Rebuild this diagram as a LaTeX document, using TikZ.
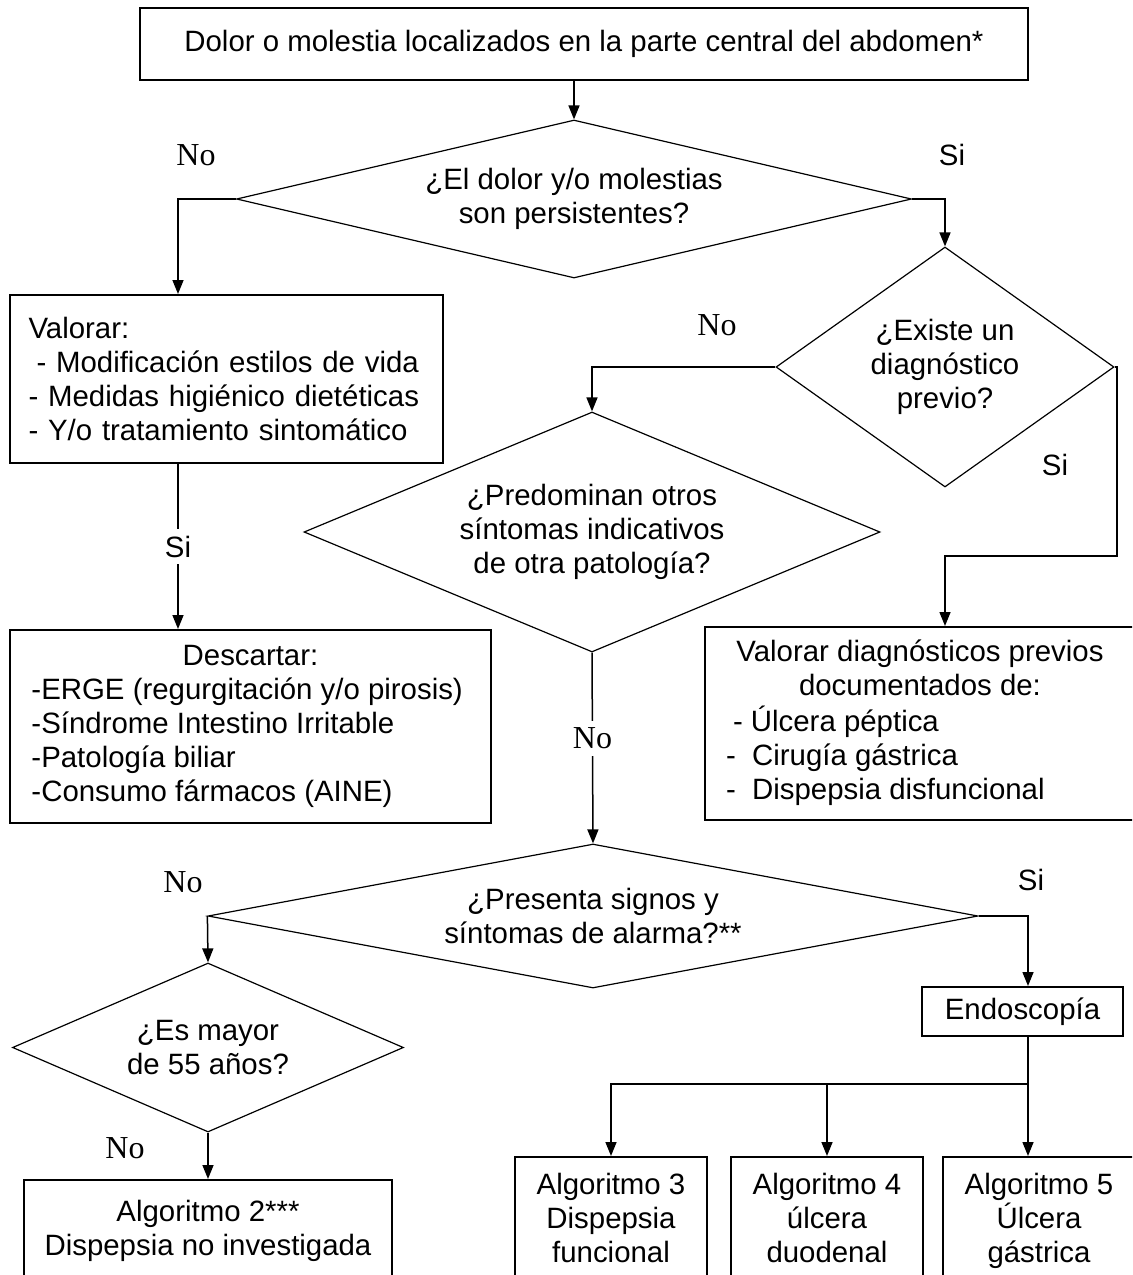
\documentclass[tikz,border=0pt]{standalone}
\usepackage{fontspec}
\setmainfont{Liberation Sans}
\newfontfamily\timesfont{Liberation Serif}
\usetikzlibrary{shapes.geometric,arrows.meta}
\tikzset{
  box/.style={draw, line width=1pt, inner sep=0pt, align=center},
  decision/.style={draw, diamond, line width=0.6pt, inner sep=0pt, align=center},
  arr/.style={line width=0.75pt, -{Triangle[length=7pt,width=5.5pt]}},
  plain/.style={line width=0.75pt},
  nolbl/.style={font=\timesfont\fontsize{16}{19}\selectfont},
}

\begin{document}
\begin{tikzpicture}[x=0.5pt, y=-0.5pt, font=\fontsize{14.7}{17}\selectfont]
  \useasboundingbox (0,0) rectangle (1132,1275);
  \clip (0,0) rectangle (1132,1275);

  % boxes and decisions
  \node[box, minimum width=444pt, minimum height=36pt] (top) at (584,44) {Dolor o molestia localizados en la parte central del abdomen*};
  \node[decision, aspect=4.27, minimum width=337.5pt, minimum height=79pt] (persist) at (574,199) {¿El dolor y/o molestias\\son persistentes?};
  \node[box, align=left, text width=198pt, inner xsep=9.25pt, minimum height=84pt] (valorar) at (226.5,379) {Valorar:\\\hspace*{4pt}- Modificación estilos de vida\\- Medidas higiénico dietéticas\\- Y/o tratamiento sintomático};
  \node[decision, aspect=1.41, minimum width=169pt, minimum height=120pt] (previo) at (945,367) {¿Existe un\\diagnóstico\\previo?};
  \node[decision, aspect=2.4, minimum width=288pt, minimum height=120pt] (otros) at (592,532) {¿Predominan otros\\síntomas indicativos\\de otra patología?};
  \node[box, minimum width=240.5pt, minimum height=96.5pt] (descartar) at (250.5,726.5) {\begin{tabular}{@{}p{219pt}@{}}\multicolumn{1}{@{}c@{}}{Descartar:}\\-ERGE (regurgitación y/o pirosis)\\-Síndrome Intestino Irritable\\-Patología biliar\\-Consumo fármacos (AINE)\end{tabular}};
  \node[box, minimum width=215pt, minimum height=96.5pt] (valdiag) at (920,723.5) {\begin{tabular}{@{}p{194pt}@{}}\multicolumn{1}{@{}c@{}}{Valorar diagnósticos previos}\\\multicolumn{1}{@{}c@{}}{documentados de:}\\\hspace*{3.5pt}- Úlcera péptica\\-\ \ Cirugía gástrica\\-\ \ Dispepsia disfuncional\end{tabular}};
  \node[decision, aspect=5.35, minimum width=385pt, minimum height=72pt] (alarma) at (593,916) {¿Presenta signos y\\síntomas de alarma?**};
  \node[decision, aspect=2.31, minimum width=195.5pt, minimum height=84.5pt] (mayor) at (208,1047.5) {¿Es mayor\\de 55 años?};
  \node[box, minimum width=100.5pt, minimum height=24.5pt] (endo) at (1022.5,1011.5) {Endoscopía};
  \node[box, anchor=north, minimum width=184pt, inner ysep=10pt, text depth=60pt] (alg2) at (208,1179) {Algoritmo 2***\\Dispepsia no investigada};
  \node[box, anchor=north, minimum width=96pt, inner ysep=8pt, text depth=60pt] (alg3) at (611,1156) {Algoritmo 3\\Dispepsia\\funcional};
  \node[box, anchor=north, minimum width=96pt, inner ysep=8pt, text depth=60pt] (alg4) at (827,1156) {Algoritmo 4\\úlcera\\duodenal};
  \node[box, anchor=north, minimum width=96pt, inner ysep=8pt, text depth=60pt] (alg5) at (1039,1156) {Algoritmo 5\\Úlcera\\gástrica};

  % turning points
  \coordinate (xL) at (178,0);
  \coordinate (xE) at (1028,0);
  \coordinate (turn) at (1117,556);
  \coordinate (bus) at (1028,1084);

  % connectors
  \draw[arr] (top.south -| persist.north) -- (persist.north);
  \draw[arr] (persist.west) -| (valorar.north -| xL);
  \draw[arr] (persist.east) -| (previo.north);
  \draw[arr] (previo.west) -| (otros.north);
  \draw[arr] (previo.east) -| (turn) -| (valdiag.north -| previo.south);
  \draw[arr] (valorar.south -| xL) -- node[fill=white] (si3) {Si} (descartar.north -| xL);
  \draw[arr] (otros.south) -- node[nolbl, fill=white, pos=0.45] (no3) {No} (alarma.north);
  \draw[arr] (alarma.west) -- (mayor.north);
  \draw[arr] (alarma.east) -| (endo.north -| xE);
  \draw[arr] (mayor.south) -- (alg2.north);
  \draw[plain] (endo.south -| xE) -- (bus);
  \draw[arr] (bus) -| (alg3.north);
  \draw[arr] (bus) -| (alg4.north);
  \draw[arr] (bus) -- (bus |- alg5.north);

  % labels
  \node[nolbl] (no1) at (196,155) {No};
  \node (si1) at (952,155) {Si};
  \node[nolbl] (no2) at (717,325) {No};
  \node (si2) at (1055,465) {Si};
  \node[nolbl] (no4) at (183,882) {No};
  \node (si4) at (1031,880) {Si};
  \node[nolbl] (no5) at (125,1148) {No};
\end{tikzpicture}
\end{document}
